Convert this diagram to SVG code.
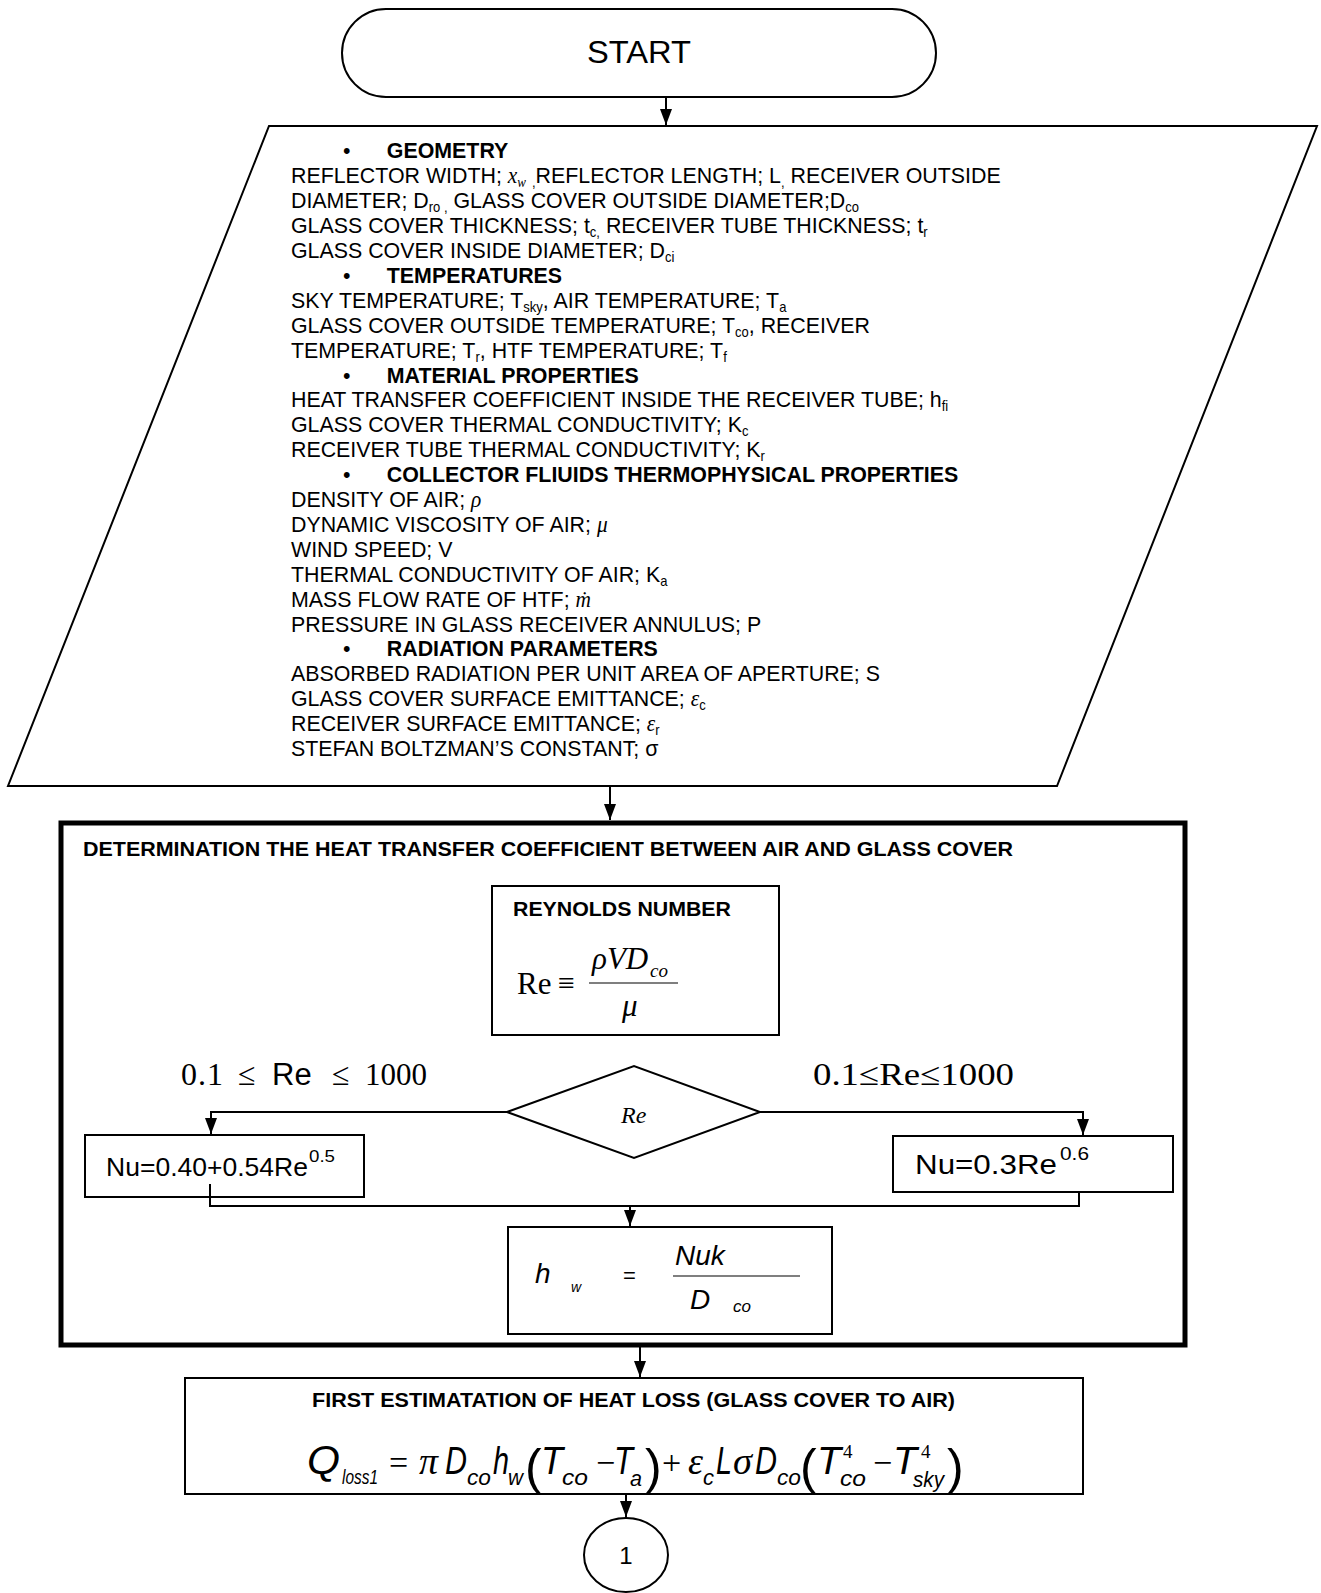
<svg xmlns="http://www.w3.org/2000/svg" width="1321" height="1593" viewBox="0 0 1321 1593">
<defs>
<style>
.t{font-family:"Liberation Sans",Arial,sans-serif;font-size:21px;fill:#000}
.p{font-size:23px}
.b{font-weight:bold}
.s{font-size:14px}
.sr{font-family:"Liberation Serif","Times New Roman",serif;font-style:italic}
.box{fill:#fff;stroke:#000;stroke-width:2}
.ln{fill:none;stroke:#000;stroke-width:2}
.fi{font-family:"Liberation Sans",Arial,sans-serif;font-style:italic;fill:#000}
.tm{font-family:"Liberation Serif","Times New Roman",serif;fill:#000}
.pa{font-family:"Liberation Sans",Arial,sans-serif;font-size:50px;fill:#000}
</style>
<marker id="ah" markerUnits="userSpaceOnUse" markerWidth="16" markerHeight="12" refX="16" refY="6" orient="auto">
<path d="M0,0 L16,6 L0,12 z" fill="#000"/>
</marker>
</defs>
<rect width="1321" height="1593" fill="#fff"/>

<g id="start">
<rect x="342" y="9" width="594" height="88" rx="44" ry="44" class="box"/>
<text x="587" y="63" class="t" style="font-size:32px" textLength="104" lengthAdjust="spacingAndGlyphs">START</text>
</g>

<g id="inputs">
<polygon points="269,126 1317,126 1057,786 8,786" class="box"/>
<g class="t p" transform="translate(291,0) scale(0.93,1) translate(-291,0)">
<text x="347" y="158.5">•</text><text x="394" y="158.5" class="b">GEOMETRY</text>
<text x="291" y="183.4">REFLECTOR WIDTH; <tspan class="sr">x</tspan><tspan class="s sr" dy="4">w</tspan><tspan dy="-4"> </tspan><tspan class="s" dy="4">,</tspan><tspan dy="-4">REFLECTOR LENGTH; L</tspan><tspan class="s" dy="4">,</tspan><tspan dy="-4"> RECEIVER OUTSIDE</tspan></text>
<text x="291" y="208.3">DIAMETER; D<tspan class="s" dy="4">ro ,</tspan><tspan dy="-4"> GLASS COVER OUTSIDE DIAMETER;D</tspan><tspan class="s" dy="4">co</tspan></text>
<text x="291" y="233.2">GLASS COVER THICKNESS; t<tspan class="s" dy="4">c,</tspan><tspan dy="-4"> RECEIVER TUBE THICKNESS; t</tspan><tspan class="s" dy="4">r</tspan></text>
<text x="291" y="258.1">GLASS COVER INSIDE DIAMETER; D<tspan class="s" dy="4">ci</tspan></text>
<text x="347" y="283">•</text><text x="394" y="283" class="b">TEMPERATURES</text>
<text x="291" y="307.9">SKY TEMPERATURE; T<tspan class="s" dy="4">sky</tspan><tspan dy="-4">, AIR TEMPERATURE; T</tspan><tspan class="s" dy="4">a</tspan></text>
<text x="291" y="332.8">GLASS COVER OUTSIDE TEMPERATURE; T<tspan class="s" dy="4">co</tspan><tspan dy="-4">, RECEIVER</tspan></text>
<text x="291" y="357.7">TEMPERATURE; T<tspan class="s" dy="4">r</tspan><tspan dy="-4">, HTF TEMPERATURE; T</tspan><tspan class="s" dy="4">f</tspan></text>
<text x="347" y="382.6">•</text><text x="394" y="382.6" class="b">MATERIAL PROPERTIES</text>
<text x="291" y="407.5">HEAT TRANSFER COEFFICIENT INSIDE THE RECEIVER TUBE; h<tspan class="s" dy="4">fi</tspan></text>
<text x="291" y="432.4">GLASS COVER THERMAL CONDUCTIVITY; K<tspan class="s" dy="4">c</tspan></text>
<text x="291" y="457.3">RECEIVER TUBE THERMAL CONDUCTIVITY; K<tspan class="s" dy="4">r</tspan></text>
<text x="347" y="482.2">•</text><text x="394" y="482.2" class="b">COLLECTOR FLIUIDS THERMOPHYSICAL PROPERTIES</text>
<text x="291" y="507.1">DENSITY OF AIR; <tspan class="sr">ρ</tspan></text>
<text x="291" y="532">DYNAMIC VISCOSITY OF AIR; <tspan class="sr">μ</tspan></text>
<text x="291" y="556.9">WIND SPEED; V</text>
<text x="291" y="581.8">THERMAL CONDUCTIVITY OF AIR; K<tspan class="s" dy="4">a</tspan></text>
<text x="291" y="606.7">MASS FLOW RATE OF HTF; <tspan class="sr">ṁ</tspan></text>
<text x="291" y="631.6">PRESSURE IN GLASS RECEIVER ANNULUS; P</text>
<text x="347" y="656.5">•</text><text x="394" y="656.5" class="b">RADIATION PARAMETERS</text>
<text x="291" y="681.4">ABSORBED RADIATION PER UNIT AREA OF APERTURE; S</text>
<text x="291" y="706.3">GLASS COVER SURFACE EMITTANCE; <tspan class="sr">ε</tspan><tspan class="s" dy="4">c</tspan></text>
<text x="291" y="731.2">RECEIVER SURFACE EMITTANCE; <tspan class="sr">ε</tspan><tspan class="s" dy="4">r</tspan></text>
<text x="291" y="756.1">STEFAN BOLTZMAN’S CONSTANT; σ</text>
</g>
</g>

<g id="htc-block">
<rect x="61" y="823" width="1124" height="522" fill="none" stroke="#000" stroke-width="5"/>
<text x="83" y="856" class="t b" style="font-size:20px" textLength="930" lengthAdjust="spacingAndGlyphs">DETERMINATION THE HEAT TRANSFER COEFFICIENT BETWEEN AIR AND GLASS COVER</text>
</g>

<g id="reynolds">
<rect x="492" y="886" width="287" height="149" class="box"/>
<text x="513" y="916" class="t b" textLength="218" lengthAdjust="spacingAndGlyphs">REYNOLDS NUMBER</text>
<text x="517" y="994" class="tm" font-size="31">Re</text>
<text x="558" y="993" class="tm" font-size="30">≡</text>
<line x1="589" y1="983" x2="678" y2="983" stroke="#000" stroke-width="1.2"/>
<text x="592" y="969" class="tm" font-size="31" font-style="italic">ρVD</text>
<text x="650" y="977" class="tm" font-size="19" font-style="italic">co</text>
<text x="622" y="1016" class="tm" font-size="31" font-style="italic">μ</text>
</g>

<g id="decision">
<polygon points="507,1112 634,1066 760,1112 634,1158" class="box"/>
<text x="621" y="1123" class="tm" font-size="24" font-style="italic">Re</text>
</g>

<g id="cond-left">
<text y="1085" class="tm" font-size="32"><tspan x="181">0</tspan><tspan x="198">.</tspan><tspan x="207">1</tspan><tspan x="238">≤</tspan></text>
<text x="272" y="1085" class="t" style="font-size:31px">Re</text>
<text y="1085" class="tm" font-size="32"><tspan x="332">≤</tspan><tspan x="365" textLength="62" lengthAdjust="spacingAndGlyphs">1000</tspan></text>
</g>

<g id="cond-right">
<text x="813" y="1085" class="tm" font-size="32" textLength="201" lengthAdjust="spacingAndGlyphs">0.1≤Re≤1000</text>
</g>

<g id="nu-left">
<rect x="85" y="1135" width="279" height="62" class="box"/>
<text x="106" y="1176" class="t" style="font-size:26px" textLength="202" lengthAdjust="spacingAndGlyphs">Nu=0.40+0.54Re</text>
<text x="309" y="1162" class="t" style="font-size:17px" textLength="26" lengthAdjust="spacingAndGlyphs">0.5</text>
</g>

<g id="nu-right">
<rect x="893" y="1136" width="280" height="56" class="box"/>
<text x="915" y="1174" class="t" style="font-size:28px" textLength="142" lengthAdjust="spacingAndGlyphs">Nu=0.3Re</text>
<text x="1060" y="1160" class="t" style="font-size:18px" textLength="29" lengthAdjust="spacingAndGlyphs">0.6</text>
</g>

<g id="hw">
<rect x="508" y="1227" width="324" height="107" class="box"/>
<text x="535" y="1283" class="fi" font-size="28">h</text>
<text x="571" y="1292" class="fi" font-size="14">w</text>
<text x="623" y="1283" class="t" style="font-size:22px">=</text>
<text x="675" y="1265" class="fi" font-size="28">Nuk</text>
<line x1="673" y1="1276" x2="800" y2="1276" stroke="#000" stroke-width="1.2"/>
<text x="690" y="1309" class="fi" font-size="28">D</text>
<text x="733" y="1312" class="fi" font-size="17">co</text>
</g>

<g id="heatloss">
<rect x="185" y="1378" width="898" height="116" class="box"/>
<text x="312" y="1407" class="t b" style="font-size:20px" textLength="643" lengthAdjust="spacingAndGlyphs">FIRST ESTIMATATION OF HEAT LOSS (GLASS COVER TO AIR)</text>
<text x="307" y="1474" class="fi" font-size="40" textLength="33" lengthAdjust="spacingAndGlyphs">Q</text>
<text x="342" y="1484" class="fi" font-size="20" textLength="36" lengthAdjust="spacingAndGlyphs">loss1</text>
<text x="389" y="1474" class="tm" font-size="34">=</text>
<text x="419" y="1474" class="tm" font-size="38" font-style="italic" textLength="19" lengthAdjust="spacingAndGlyphs">π</text>
<text x="445" y="1474" class="fi" font-size="38" textLength="22" lengthAdjust="spacingAndGlyphs">D</text>
<text x="467" y="1485" class="fi" font-size="22" textLength="24" lengthAdjust="spacingAndGlyphs">co</text>
<text x="493" y="1474" class="fi" font-size="38" textLength="16" lengthAdjust="spacingAndGlyphs">h</text>
<text x="508" y="1485" class="fi" font-size="22" textLength="15" lengthAdjust="spacingAndGlyphs">w</text>
<text x="525" y="1484" class="pa">(</text>
<text x="541" y="1474" class="fi" font-size="38" textLength="22" lengthAdjust="spacingAndGlyphs">T</text>
<text x="562" y="1485" class="fi" font-size="22" textLength="26" lengthAdjust="spacingAndGlyphs">co</text>
<text x="596" y="1474" class="tm" font-size="34">−</text>
<text x="614" y="1474" class="fi" font-size="38" textLength="19" lengthAdjust="spacingAndGlyphs">T</text>
<text x="630" y="1486" class="fi" font-size="22" textLength="12" lengthAdjust="spacingAndGlyphs">a</text>
<text x="645" y="1484" class="pa">)</text>
<text x="662" y="1474" class="tm" font-size="34">+</text>
<text x="688" y="1474" class="tm" font-size="38" font-style="italic" textLength="15" lengthAdjust="spacingAndGlyphs">ε</text>
<text x="703" y="1485" class="fi" font-size="22" textLength="11" lengthAdjust="spacingAndGlyphs">c</text>
<text x="716" y="1474" class="fi" font-size="38" textLength="16" lengthAdjust="spacingAndGlyphs">L</text>
<text x="733" y="1474" class="tm" font-size="38" font-style="italic" textLength="19" lengthAdjust="spacingAndGlyphs">σ</text>
<text x="755" y="1474" class="fi" font-size="38" textLength="22" lengthAdjust="spacingAndGlyphs">D</text>
<text x="777" y="1485" class="fi" font-size="22" textLength="24" lengthAdjust="spacingAndGlyphs">co</text>
<text x="800" y="1484" class="pa">(</text>
<text x="817" y="1474" class="fi" font-size="38" textLength="24" lengthAdjust="spacingAndGlyphs">T</text>
<text x="843" y="1458" class="tm" font-size="19">4</text>
<text x="840" y="1486" class="fi" font-size="22" textLength="26" lengthAdjust="spacingAndGlyphs">co</text>
<text x="873" y="1474" class="tm" font-size="34">−</text>
<text x="893" y="1474" class="fi" font-size="38" textLength="24" lengthAdjust="spacingAndGlyphs">T</text>
<text x="921" y="1458" class="tm" font-size="19">4</text>
<text x="913" y="1487" class="fi" font-size="22" textLength="31" lengthAdjust="spacingAndGlyphs">sky</text>
<text x="947" y="1484" class="pa">)</text>
</g>

<g id="connector-1">
<ellipse cx="626" cy="1555" rx="42" ry="37" class="box"/>
<text x="626" y="1564" class="t" style="font-size:24px" text-anchor="middle">1</text>
</g>

<g id="connectors" class="ln">
<path d="M666,97 V125" marker-end="url(#ah)"/>
<path d="M610,786 V820" marker-end="url(#ah)"/>
<path d="M507,1112 H211 V1134" marker-end="url(#ah)"/>
<path d="M760,1112 H1083 V1135" marker-end="url(#ah)"/>
<path d="M210,1184 V1206 H1079 V1192"/>
<path d="M630,1206 V1226" marker-end="url(#ah)"/>
<path d="M640,1347 V1377" marker-end="url(#ah)"/>
<path d="M626,1494 V1517" marker-end="url(#ah)"/>
</g>
</svg>
